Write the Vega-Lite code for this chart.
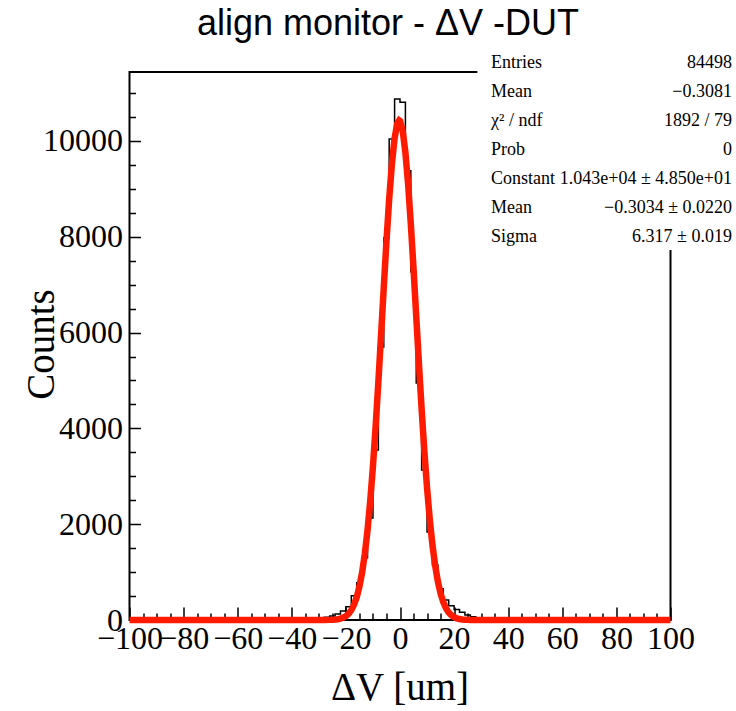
{
  "$schema": "https://vega.github.io/schema/vega-lite/v6.json",
  "width": 541,
  "height": 548,
  "autosize": {"type": "none"},
  "padding": {"left": 129.5, "top": 72, "right": 65.5, "bottom": 91},
  "background": "white",
  "config": {
    "view": {"stroke": "black", "strokeWidth": 2},
    "axis": {"grid": false, "domain": false, "tickColor": "black", "tickWidth": 1.5, "labelColor": "black", "labelFont": "Liberation Serif", "labelFontSize": 32, "titleFont": "Liberation Serif", "titleFontSize": 39, "titleFontWeight": "normal", "titleColor": "black"}
  },
  "title": {"text": "align monitor - ΔV -DUT", "font": "Liberation Sans", "fontSize": 36, "fontWeight": "normal", "color": "black", "anchor": "middle", "baseline": "alphabetic", "offset": -31, "dx": -12},
  "datasets": {
    "hist": [
      {"x": -100, "count": 0}, {"x": -50, "count": 1}, {"x": -48, "count": 2}, {"x": -46, "count": 3},
      {"x": -44, "count": 4}, {"x": -42, "count": 5}, {"x": -40, "count": 7}, {"x": -38, "count": 10},
      {"x": -36, "count": 14}, {"x": -34, "count": 20}, {"x": -32, "count": 28}, {"x": -30, "count": 40},
      {"x": -28, "count": 60}, {"x": -26, "count": 85}, {"x": -24, "count": 125}, {"x": -22, "count": 188},
      {"x": -20, "count": 278}, {"x": -18, "count": 507}, {"x": -16, "count": 780}, {"x": -14, "count": 1300},
      {"x": -12, "count": 2130}, {"x": -10, "count": 3549}, {"x": -8, "count": 5700}, {"x": -6, "count": 7975},
      {"x": -4, "count": 10042}, {"x": -2, "count": 10877}, {"x": 0, "count": 10808}, {"x": 2, "count": 9380},
      {"x": 4, "count": 7271}, {"x": 6, "count": 4948}, {"x": 8, "count": 3132}, {"x": 10, "count": 1837},
      {"x": 12, "count": 1150}, {"x": 14, "count": 650}, {"x": 16, "count": 418}, {"x": 18, "count": 300},
      {"x": 20, "count": 220}, {"x": 22, "count": 160}, {"x": 24, "count": 104}, {"x": 26, "count": 70},
      {"x": 28, "count": 48}, {"x": 30, "count": 33}, {"x": 32, "count": 24}, {"x": 34, "count": 17},
      {"x": 36, "count": 12}, {"x": 38, "count": 8}, {"x": 40, "count": 6}, {"x": 42, "count": 4},
      {"x": 44, "count": 3}, {"x": 46, "count": 2}, {"x": 48, "count": 1}, {"x": 50, "count": 0},
      {"x": 100, "count": 0}
    ],
    "fit": [
      {"x": -100, "g": 0}, {"x": -30, "g": 0}, {"x": -28, "g": 0.6}, {"x": -26, "g": 2.6}, {"x": -25, "g": 5},
      {"x": -24, "g": 9}, {"x": -23, "g": 16}, {"x": -22, "g": 29}, {"x": -21, "g": 49}, {"x": -20, "g": 81},
      {"x": -19, "g": 131}, {"x": -18, "g": 206}, {"x": -17, "g": 317}, {"x": -16, "g": 476}, {"x": -15, "g": 696},
      {"x": -14, "g": 994}, {"x": -13, "g": 1384}, {"x": -12, "g": 1878}, {"x": -11, "g": 2487}, {"x": -10, "g": 3211},
      {"x": -9, "g": 4043}, {"x": -8, "g": 4965}, {"x": -7, "g": 5946}, {"x": -6, "g": 6945}, {"x": -5, "g": 7911},
      {"x": -4, "g": 8789}, {"x": -3, "g": 9522}, {"x": -2, "g": 10060}, {"x": -1, "g": 10367}, {"x": -0.3, "g": 10430},
      {"x": 0, "g": 10418}, {"x": 1, "g": 10210}, {"x": 2, "g": 9759}, {"x": 3, "g": 9097}, {"x": 4, "g": 8270},
      {"x": 5, "g": 7332}, {"x": 6, "g": 6341}, {"x": 7, "g": 5346}, {"x": 8, "g": 4396}, {"x": 9, "g": 3526},
      {"x": 10, "g": 2758}, {"x": 11, "g": 2104}, {"x": 12, "g": 1565}, {"x": 13, "g": 1136}, {"x": 14, "g": 803},
      {"x": 15, "g": 555}, {"x": 16, "g": 373}, {"x": 17, "g": 245}, {"x": 18, "g": 157}, {"x": 19, "g": 98},
      {"x": 20, "g": 60}, {"x": 21, "g": 35}, {"x": 22, "g": 20}, {"x": 23, "g": 12}, {"x": 24, "g": 6.4},
      {"x": 25, "g": 3.4}, {"x": 26, "g": 1.8}, {"x": 28, "g": 0.4}, {"x": 30, "g": 0}, {"x": 100, "g": 0}
    ]
  },
  "layer": [
    {
      "data": {"name": "hist"},
      "mark": {"type": "line", "interpolate": "step-after", "color": "black", "strokeWidth": 1.5},
      "encoding": {
        "x": {"field": "x", "type": "quantitative", "scale": {"domain": [-100, 100], "nice": false, "zero": false},
          "axis": {"orient": "bottom", "values": [-100, -80, -60, -40, -20, 0, 20, 40, 60, 80, 100], "format": "d", "tickSize": -13, "labelPadding": 16, "labelOverlap": false, "labelFlush": false,
            "title": "ΔV [um]", "titleX": 270, "titleY": 79, "titleAlign": "center", "titleBaseline": "alphabetic", "titleAnchor": null}},
        "y": {"field": "count", "type": "quantitative", "scale": {"domain": [0, 11440], "nice": false},
          "axis": {"orient": "left", "values": [0, 2000, 4000, 6000, 8000, 10000], "format": "d", "tickSize": -11, "labelPadding": 18, "labelOverlap": false, "labelFlush": false,
            "title": "Counts", "titleAngle": -90, "titleX": -76, "titleY": 272, "titleAlign": "center", "titleBaseline": "alphabetic", "titleAnchor": null}}
      }
    },
    {
      "data": {"name": "fit"},
      "mark": {"type": "line", "color": "#ff1a00", "strokeWidth": 6.5},
      "encoding": {
        "x": {"field": "x", "type": "quantitative",
          "axis": {"orient": "bottom", "values": [-95, -90, -85, -75, -70, -65, -55, -50, -45, -35, -30, -25, -15, -10, -5, 5, 10, 15, 25, 30, 35, 45, 50, 55, 65, 70, 75, 85, 90, 95], "tickSize": -7, "labels": false, "title": null}},
        "y": {"field": "g", "type": "quantitative",
          "axis": {"orient": "left", "values": [500, 1000, 1500, 2500, 3000, 3500, 4500, 5000, 5500, 6500, 7000, 7500, 8500, 9000, 9500, 10500, 11000], "tickSize": -6, "labels": false, "title": null}}
      }
    },
    {
      "data": {"values": [{}]},
      "mark": {"type": "rect", "fill": "white", "strokeWidth": 0},
      "encoding": {
        "x": {"datum": 28.6, "axis": null},
        "x2": {"datum": 140},
        "y": {"datum": 7725, "axis": null},
        "y2": {"datum": 12100}
      }
    },
    {
      "data": {"values": [{}]},
      "mark": {"type": "text", "text": ["Entries", "Mean", "χ² / ndf", "Prob", "Constant", "Mean", "Sigma"], "align": "left", "baseline": "middle", "lineHeight": 29, "font": "Liberation Serif", "fontSize": 18, "color": "black"},
      "encoding": {
        "x": {"datum": 33.64, "axis": null},
        "y": {"datum": 11628, "axis": null}
      }
    },
    {
      "data": {"values": [{}]},
      "mark": {"type": "text", "text": ["84498", "−0.3081", "1892 / 79", "0", "1.043e+04 ± 4.850e+01", "−0.3034 ± 0.0220", "6.317 ± 0.019"], "align": "right", "baseline": "middle", "lineHeight": 29, "font": "Liberation Serif", "fontSize": 18, "color": "black"},
      "encoding": {
        "x": {"datum": 122.74, "axis": null},
        "y": {"datum": 11628, "axis": null}
      }
    }
  ],
  "resolve": {"axis": {"x": "independent", "y": "independent"}}
}
